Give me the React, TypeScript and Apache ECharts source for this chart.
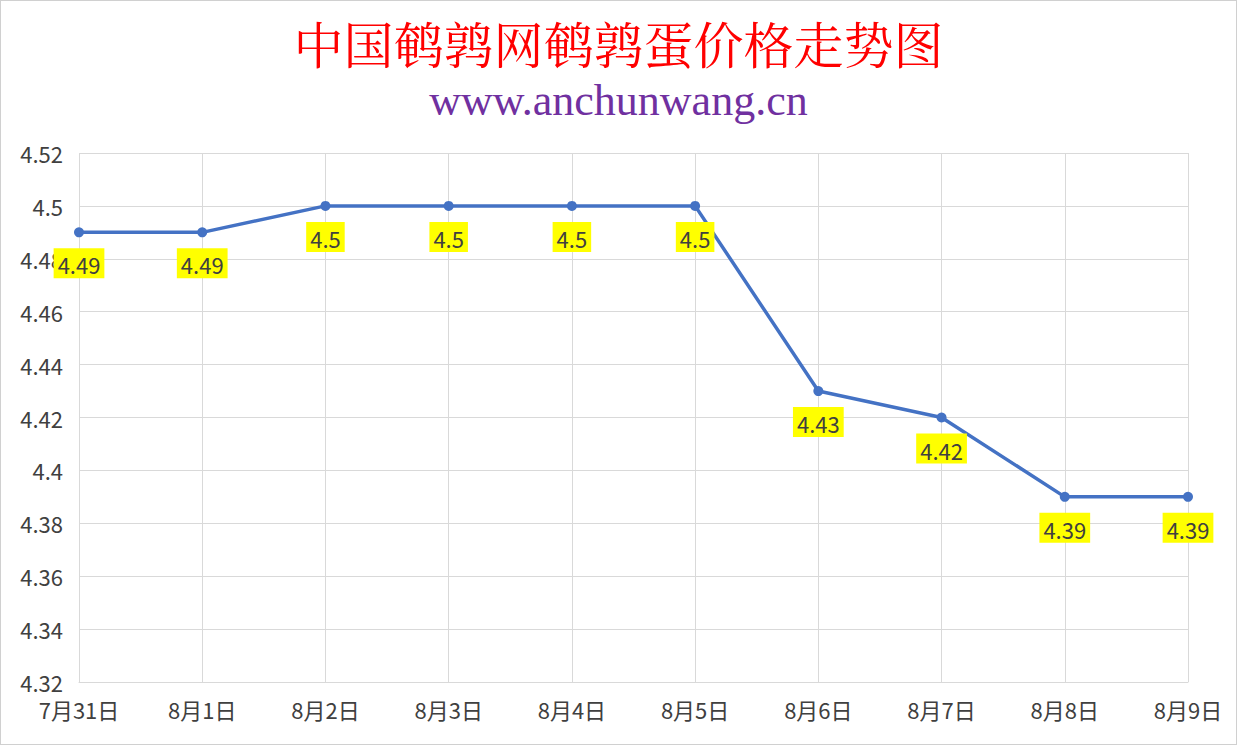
import { useEffect, useRef } from 'react'
import * as echarts from 'echarts'

const categories = ['7月31日', '8月1日', '8月2日', '8月3日', '8月4日', '8月5日', '8月6日', '8月7日', '8月8日', '8月9日']
const prices = [4.49, 4.49, 4.5, 4.5, 4.5, 4.5, 4.43, 4.42, 4.39, 4.39]
const yMin = 4.32
const yMax = 4.52
const yStep = 0.02

const titleText = '中国鹌鹑网鹌鹑蛋价格走势图'
const subtitleText = 'www.anchunwang.cn'

const sansFont = '"Microsoft YaHei", "Noto Sans CJK SC", sans-serif'

export default function App() {
  const chartRef = useRef<HTMLDivElement>(null)

  useEffect(() => {
    if (!chartRef.current) return
    const chart = echarts.init(chartRef.current, undefined, { renderer: 'svg' })

    chart.setOption({
      animation: false,
      backgroundColor: '#ffffff',
      title: [
        {
          text: titleText,
          left: 'center',
          top: 21,
          padding: 0,
          textStyle: { color: '#ff0000', fontSize: 50, lineHeight: 40, fontWeight: 'normal', fontFamily: '"SimSun", "Noto Serif CJK SC", serif' },
        },
        {
          text: subtitleText,
          left: 'center',
          top: 78,
          padding: 0,
          textStyle: { color: '#7030a0', fontSize: 44, lineHeight: 42, fontWeight: 'normal', fontFamily: '"Times New Roman", "Liberation Serif", serif' },
        },
      ],
      grid: { left: 78, right: 48, top: 152, bottom: 62 },
      xAxis: {
        type: 'category',
        data: categories,
        boundaryGap: false,
        axisLine: { lineStyle: { color: '#d9d9d9', width: 1 } },
        axisTick: { show: false },
        axisLabel: { color: '#404040', fontSize: 22, margin: 16, fontFamily: sansFont, interval: 0 },
        splitLine: { show: true, lineStyle: { color: '#d9d9d9', width: 1 } },
      },
      yAxis: {
        type: 'value',
        min: yMin,
        max: yMax,
        interval: yStep,
        axisLine: { show: false },
        axisTick: { show: false },
        axisLabel: {
          color: '#404040',
          fontSize: 22,
          margin: 16,
          fontFamily: sansFont,
          formatter: (v: number) => String(Number(v.toFixed(2))),
        },
        splitLine: { lineStyle: { color: '#d9d9d9', width: 1 } },
      },
      series: [
        {
          type: 'line',
          data: prices,
          symbol: 'circle',
          symbolSize: 10,
          itemStyle: { color: '#4472c4' },
          lineStyle: { color: '#4472c4', width: 3.5 },
          label: {
            show: true,
            position: 'bottom',
            distance: 11,
            backgroundColor: '#ffff00',
            padding: [5, 4, 3, 4],
            color: '#404040',
            fontSize: 22,
            fontFamily: sansFont,
            formatter: (p: { value: number }) => String(p.value),
          },
        },
      ],
    })

    return () => {
      chart.dispose()
    }
  }, [])

  return (
    <div
      style={{
        position: 'absolute',
        left: 0,
        top: 0,
        width: 1237,
        height: 745,
        boxSizing: 'border-box',
        border: '1px solid #d0d0d0',
        background: '#fff',
      }}
    >
      <div ref={chartRef} style={{ width: 1235, height: 743 }} />
    </div>
  )
}
